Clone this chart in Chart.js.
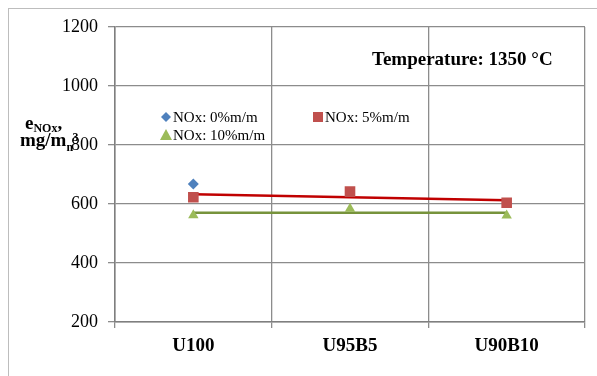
<!DOCTYPE html>
<html>
<head>
<meta charset="utf-8">
<script src="https://cdn.jsdelivr.net/npm/chart.js@4"></script>
<style>
  html, body { margin: 0; padding: 0; background: #ffffff; }
  #wrap { width: 597px; height: 376px; position: relative; }
</style>
</head>
<body>
<div id="wrap"><canvas id="nox-chart"></canvas></div>
<script>
// values
const categories = ['U100', 'U95B5', 'U90B10'];
const nox0 = [668, null, null];
const nox5 = [623, 642, 604];
const nox10 = [562, 584, 561];
// trend lines
const trend5 = [633, 623, 613];
const trend10 = [570, 570, 570];
const yTicks = [200, 400, 600, 800, 1000, 1200];

const serif = "'Liberation Serif', 'Times New Roman', serif";

// outer frame, title, y axis label and legend
const extras = {
    id: 'extras',
    beforeDraw(chart) {
        const ctx = chart.ctx;
        ctx.save();
        ctx.fillStyle = '#ffffff';
        ctx.fillRect(0, 0, chart.width, chart.height);
        ctx.strokeStyle = '#bdbdbd';
        ctx.lineWidth = 1;
        ctx.strokeRect(8.5, 8.5, 620, 400);
        ctx.restore();
    },
    afterDraw(chart) {
        const ctx = chart.ctx;
        ctx.save();
        ctx.fillStyle = '#000000';
        ctx.textBaseline = 'alphabetic';
        ctx.textAlign = 'left';

        // title
        ctx.font = 'bold 19px ' + serif;
        ctx.fillText('Temperature: 1350 °C', 372, 65);

        // y axis title
        ctx.font = 'bold 19px ' + serif;
        ctx.fillText('e', 25, 129);
        let we = ctx.measureText('e').width;
        ctx.font = 'bold 12px ' + serif;
        ctx.fillText('NOx', 25 + we, 132);
        let w = ctx.measureText('NOx').width;
        ctx.font = 'bold 19px ' + serif;
        ctx.fillText(',', 25 + we + w, 129);
        ctx.fillText('mg/m', 20, 146);
        let w2 = ctx.measureText('mg/m').width;
        ctx.font = 'bold 12px ' + serif;
        ctx.fillText('n', 20 + w2, 151);
        ctx.fillText('3', 20 + w2 + 6, 141);

        // legend
        ctx.font = '15px ' + serif;
        const items = [
            { text: 'NOx: 0%m/m', x: 173, y: 122, shape: 'diamond', color: '#4F81BD' },
            { text: 'NOx: 5%m/m', x: 325, y: 122, shape: 'square', color: '#C0504D' },
            { text: 'NOx: 10%m/m', x: 173, y: 140, shape: 'triangle', color: '#9BBB59' }
        ];
        items.forEach(it => {
            const cx = it.x - 7, cy = it.y - 5;
            ctx.fillStyle = it.color;
            ctx.beginPath();
            if (it.shape === 'diamond') {
                ctx.moveTo(cx, cy - 5); ctx.lineTo(cx + 5, cy); ctx.lineTo(cx, cy + 5); ctx.lineTo(cx - 5, cy);
            } else if (it.shape === 'square') {
                ctx.rect(cx - 5, cy - 5, 10, 10);
            } else {
                ctx.moveTo(cx, cy - 6); ctx.lineTo(cx + 6, cy + 5); ctx.lineTo(cx - 6, cy + 5);
            }
            ctx.closePath();
            ctx.fill();
            ctx.fillStyle = '#000000';
            ctx.fillText(it.text, it.x, it.y);
        });
        ctx.restore();
    }
};

new Chart(document.getElementById('nox-chart'), {
    type: 'line',
    data: {
        labels: categories,
        datasets: [
            {
                label: 'trend 5',
                data: trend5,
                borderColor: '#C00000',
                borderWidth: 2.5,
                pointRadius: 0,
                order: 5
            },
            {
                label: 'trend 10',
                data: trend10,
                borderColor: '#77933C',
                borderWidth: 2.5,
                pointRadius: 0,
                order: 4
            },
            {
                label: 'NOx: 0%m/m',
                data: nox0,
                showLine: false,
                pointStyle: 'rectRot',
                pointRadius: 5.5,
                pointBackgroundColor: '#4F81BD',
                pointBorderWidth: 0,
                order: 1
            },
            {
                label: 'NOx: 5%m/m',
                data: nox5,
                showLine: false,
                pointStyle: 'rect',
                pointRadius: 7.5,
                pointBackgroundColor: '#C0504D',
                pointBorderWidth: 0,
                order: 2
            },
            {
                label: 'NOx: 10%m/m',
                data: nox10,
                showLine: false,
                pointStyle: 'triangle',
                pointRadius: 6,
                pointBackgroundColor: '#9BBB59',
                pointBorderWidth: 0,
                order: 3
            }
        ]
    },
    options: {
        responsive: true,
        maintainAspectRatio: false,
        animation: false,
        layout: {
            padding: { top: 27, right: 12, left: 0, bottom: 0 }
        },
        scales: {
            x: {
                offset: true,
                grid: {
                    offset: true,
                    color: '#8c8c8c',
                    lineWidth: 1.3,
                    tickLength: 6
                },
                border: { color: '#7f7f7f', width: 1.5 },
                ticks: {
                    color: '#000000',
                    padding: 7,
                    font: { family: serif, size: 19, weight: 'bold' }
                },
                afterFit(scale) { scale.height = 54; }
            },
            y: {
                min: 200,
                max: 1200,
                afterBuildTicks(scale) {
                    scale.ticks = yTicks.map(v => ({ value: v }));
                },
                grid: {
                    color: '#8c8c8c',
                    lineWidth: 1.3,
                    tickLength: 7
                },
                border: { color: '#7f7f7f', width: 1.5 },
                ticks: {
                    color: '#000000',
                    padding: 10,
                    font: { family: serif, size: 18 },
                    callback: value => String(value)
                },
                afterFit(scale) { scale.width = 115; }
            }
        },
        plugins: {
            legend: { display: false },
            tooltip: { enabled: false }
        }
    },
    plugins: [extras]
});
</script>
</body>
</html>
